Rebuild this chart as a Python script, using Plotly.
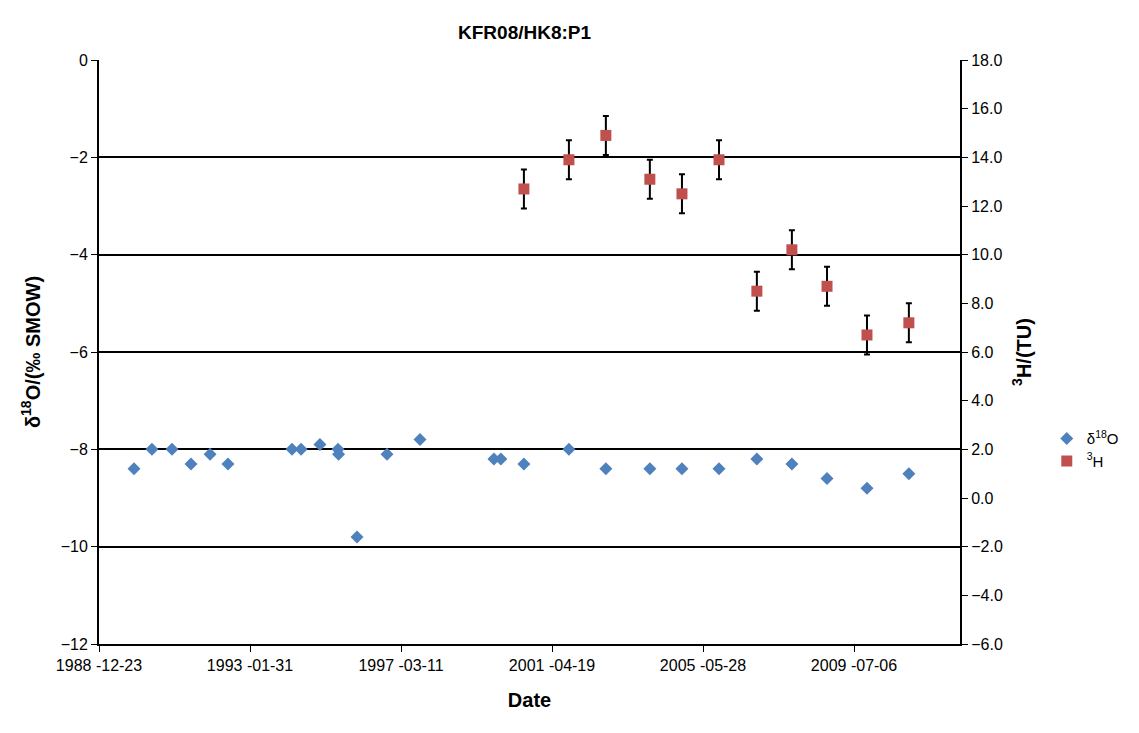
import plotly.graph_objects as go

# d18O samples
o18_dates = ["1989-12-06", "1990-06-02", "1990-12-18", "1991-06-25", "1991-12-31",
             "1992-06-26", "1994-03-24", "1994-06-22", "1994-12-27", "1995-06-24",
             "1995-06-30", "1995-12-30", "1996-10-23", "1997-09-16", "1999-09-20",
             "1999-11-28", "2000-07-14", "2001-10-04", "2002-10-06", "2003-12-17",
             "2004-10-31", "2005-11-03", "2006-11-14", "2007-10-28", "2008-10-11",
             "2009-11-12", "2011-01-02"]
o18_vals = [-8.4, -8.0, -8.0, -8.3, -8.1, -8.3, -8.0, -8.0, -7.9, -8.0, -8.1, -9.8,
            -8.1, -7.8, -8.2, -8.2, -8.3, -8.0, -8.4, -8.4, -8.4, -8.4, -8.2, -8.3,
            -8.6, -8.8, -8.5]

# tritium samples
h3_dates = ["2000-07-14", "2001-10-04", "2002-10-06", "2003-12-17", "2004-10-31",
            "2005-11-03", "2006-11-14", "2007-10-28", "2008-10-11", "2009-11-12",
            "2011-01-02"]
h3_vals = [12.7, 13.9, 14.9, 13.1, 12.5, 13.9, 8.5, 10.2, 8.7, 6.7, 7.2]
h3_err = [0.8, 0.8, 0.8, 0.8, 0.8, 0.8, 0.8, 0.8, 0.8, 0.8, 0.8]

tick_dates = ["1988-12-23", "1993-01-31", "1997-03-11", "2001-04-19", "2005-05-28", "2009-07-06"]
tick_text = ["1988 -12-23", "1993 -01-31", "1997 -03-11", "2001 -04-19", "2005 -05-28", "2009 -07-06"]

fig = go.Figure()
fig.add_trace(go.Scatter(
    x=o18_dates, y=o18_vals, mode="markers", name="δ<sup>18</sup>O",
    marker=dict(symbol="diamond", color="#4F81BD", size=10)
))
fig.add_trace(go.Scatter(
    x=h3_dates, y=h3_vals, mode="markers", name="<sup>3</sup>H", yaxis="y2",
    marker=dict(symbol="square", color="#C0504D", size=11),
    error_y=dict(type="data", array=h3_err, color="black", thickness=2, width=3)
))

# page body has an 8px margin, so the figure is sized to fit inside it
font = dict(family="Liberation Sans, Arial", size=16, color="black")
fig.update_layout(
    width=1123, height=717,
    paper_bgcolor="white", plot_bgcolor="white",
    margin=dict(l=91, r=171, t=52, b=81),
    font=font,
    title=dict(text="<b>KFR08/HK8:P1</b>", x=0.46, xanchor="center", y=0.975,
               font=dict(size=19)),
    showlegend=True,
    # container ref so the legend does not push the right margin
    legend=dict(xref="container", yref="container", x=0.925, y=0.384,
                xanchor="left", yanchor="middle",
                font=dict(size=15), tracegroupgap=8, itemwidth=30),
    xaxis=dict(
        range=["1988-12-23", "2012-05-24"], tickvals=tick_dates, ticktext=tick_text,
        showgrid=False, zeroline=False, showline=True, linecolor="black", linewidth=2,
        ticks="outside", ticklen=6, tickcolor="black", automargin=False,
        title=dict(text="<b>Date</b>", font=dict(size=20), standoff=20)
    ),
    yaxis=dict(
        range=[-12, 0], dtick=2, showgrid=True, gridcolor="black", gridwidth=2,
        zeroline=False, showline=True, linecolor="black", linewidth=2,
        ticks="outside", ticklen=6, tickcolor="black", automargin=False,
        title=dict(text="<b>δ<sup>18</sup>O/(‰ SMOW)</b>", font=dict(size=20))
    ),
    yaxis2=dict(
        range=[-6, 18], dtick=2, overlaying="y", side="right", tickformat=".1f",
        showgrid=False, zeroline=False, showline=True, linecolor="black", linewidth=2,
        ticks="outside", ticklen=6, tickcolor="black", automargin=False,
        title=dict(text="<b><sup>3</sup>H/(TU)</b>", font=dict(size=20))
    ),
)

fig.write_html("out.html")
